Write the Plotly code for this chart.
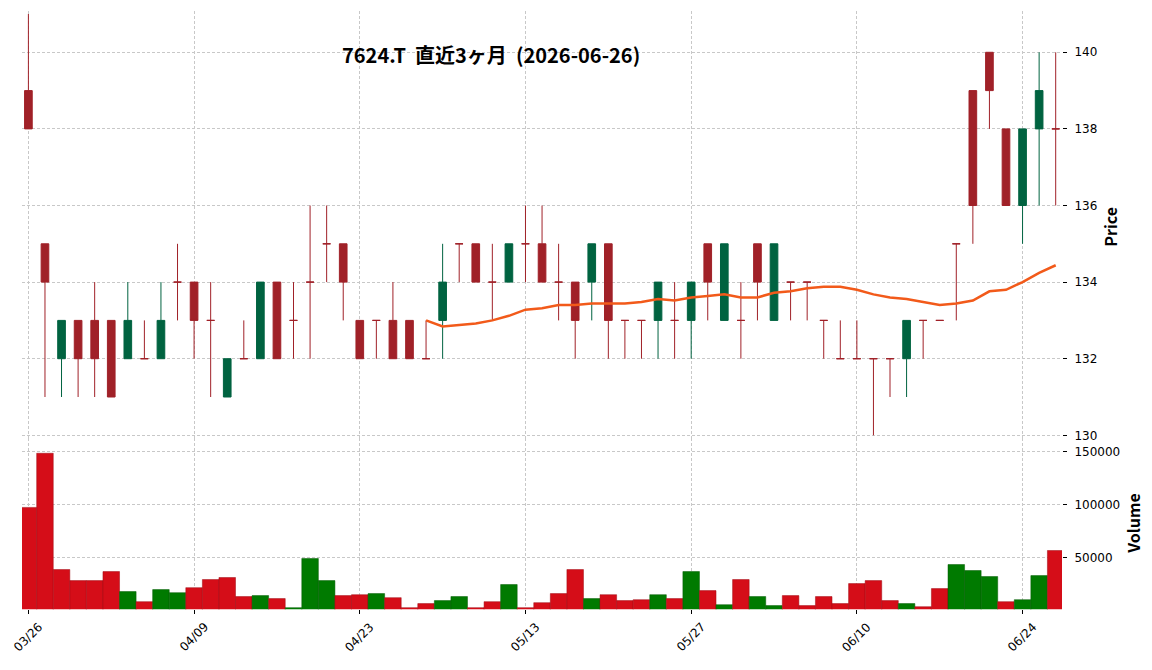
import plotly.graph_objects as go
import pandas as pd

# ---------------- data ----------------
dates = [
    "2026-03-26", "2026-03-27", "2026-03-30", "2026-03-31",
    "2026-04-01", "2026-04-02", "2026-04-03", "2026-04-06", "2026-04-07", "2026-04-08",
    "2026-04-09", "2026-04-10", "2026-04-13", "2026-04-14", "2026-04-15", "2026-04-16",
    "2026-04-17", "2026-04-20", "2026-04-21", "2026-04-22", "2026-04-23", "2026-04-24",
    "2026-04-27", "2026-04-28", "2026-04-30",
    "2026-05-01", "2026-05-07", "2026-05-08", "2026-05-11", "2026-05-12", "2026-05-13",
    "2026-05-14", "2026-05-15", "2026-05-18", "2026-05-19", "2026-05-20", "2026-05-21",
    "2026-05-22", "2026-05-25", "2026-05-26", "2026-05-27", "2026-05-28", "2026-05-29",
    "2026-06-01", "2026-06-02", "2026-06-03", "2026-06-04", "2026-06-05", "2026-06-08",
    "2026-06-09", "2026-06-10", "2026-06-11", "2026-06-12", "2026-06-15", "2026-06-16",
    "2026-06-17", "2026-06-18", "2026-06-19", "2026-06-22", "2026-06-23", "2026-06-24",
    "2026-06-25", "2026-06-26",
]
opens = [139, 135, 132, 133, 133, 133, 132, 132, 132, 134,
         134, 133, 131, 132, 132, 134, 133, 134, 135, 135,
         133, 133, 133, 133, 132, 133, 135, 135, 134, 134,
         135, 135, 134, 134, 134, 135, 133, 133, 133, 133,
         133, 135, 133, 133, 135, 133, 134, 134, 133, 132,
         132, 132, 132, 132, 133, 133, 135, 139, 140, 138,
         136, 138, 138]
highs = [141, 135, 133, 133, 134, 133, 134, 133, 134, 135,
         134, 134, 132, 133, 134, 134, 134, 136, 136, 135,
         133, 133, 134, 133, 133, 135, 135, 135, 135, 135,
         136, 136, 135, 134, 135, 135, 133, 133, 134, 134,
         134, 135, 135, 134, 135, 135, 134, 134, 133, 133,
         133, 132, 132, 133, 133, 133, 135, 139, 140, 138,
         138, 140, 140]
lows = [138, 131, 131, 131, 131, 131, 132, 132, 132, 133,
        132, 131, 131, 132, 132, 132, 132, 132, 134, 133,
        132, 132, 132, 132, 132, 132, 134, 134, 133, 134,
        134, 134, 133, 132, 133, 132, 132, 132, 132, 132,
        132, 133, 133, 132, 133, 133, 133, 133, 132, 132,
        132, 130, 131, 131, 132, 133, 133, 135, 138, 136,
        135, 136, 136]
closes = [138, 134, 133, 132, 132, 131, 133, 132, 133, 134,
          133, 133, 132, 132, 134, 132, 133, 134, 135, 134,
          132, 133, 132, 132, 132, 134, 135, 134, 134, 135,
          135, 134, 134, 133, 135, 133, 133, 133, 134, 133,
          134, 134, 135, 133, 134, 135, 134, 134, 133, 132,
          132, 132, 132, 133, 133, 133, 135, 136, 139, 136,
          138, 139, 138]
volumes = [97500, 148400, 39100, 28700, 28700, 37200, 18400, 8950, 20250, 17400,
           22100, 29700, 31600, 13700, 14600, 11800, 3300, 49500, 28700, 14600,
           15500, 16500, 12700, 3300, 7100, 9900, 13700, 3300, 8950, 25000,
           3300, 8000, 16500, 39100, 11800, 15500, 9900, 10800, 15500, 11800,
           37200, 19300, 6100, 29700, 13700, 5200, 14600, 5200, 13700, 7100,
           25900, 28700, 9900, 7100, 4200, 21200, 43800, 38200, 32500, 8950,
           10800, 33400, 57000]

tick_dates = ["2026-03-26", "2026-04-09", "2026-04-23", "2026-05-13",
              "2026-05-27", "2026-06-10", "2026-06-24"]
tick_labels = ["03/26", "04/09", "04/23", "05/13", "05/27", "06/10", "06/24"]
price_ticks = [130, 132, 134, 136, 138, 140]
volume_ticks = [50000, 100000, 150000]
ma_window = 25
title_text = "7624.T  直近3ヶ月  (2026-06-26)"

# ---------------- styles ----------------
UP = "#006340"
DOWN = "#A02128"
VUP = "#007A00"
VDOWN = "#D50D18"
MA_COLOR = "#F25A1A"
GRID = "#C8C8C8"
TICK_FONT = dict(family="DejaVu Sans", size=12, color="#000000")
LABEL_FONT = dict(family="Noto Sans CJK JP", size=16, color="#000000", weight="bold")

n = len(dates)
up_idx = [i for i in range(n) if closes[i] > opens[i]]
dn_idx = [i for i in range(n) if closes[i] <= opens[i]]

ma = pd.Series(closes, dtype=float).rolling(ma_window).mean()
ma_vals = [None if pd.isna(v) else float(v) for v in ma]

vol_colors = [VDOWN] + [VUP if closes[i] > closes[i - 1] else VDOWN for i in range(1, n)]
vol_edges = ["#9E0A12" if c == VDOWN else "#005A00" for c in vol_colors]

fig = go.Figure()


def candle(idx, color):
    return go.Candlestick(
        x=[dates[i] for i in idx],
        open=[opens[i] for i in idx],
        high=[highs[i] for i in idx],
        low=[lows[i] for i in idx],
        close=[closes[i] for i in idx],
        increasing=dict(line=dict(color=color, width=1), fillcolor=color),
        decreasing=dict(line=dict(color=color, width=1), fillcolor=color),
        whiskerwidth=0,
        xaxis="x", yaxis="y", showlegend=False,
    )


fig.add_trace(candle(up_idx, UP))
fig.add_trace(candle(dn_idx, DOWN))
fig.add_trace(go.Scatter(x=dates, y=ma_vals, mode="lines",
                         line=dict(color=MA_COLOR, width=2.5),
                         xaxis="x", yaxis="y", showlegend=False))
fig.add_trace(go.Bar(x=dates, y=volumes, width=1.0,
                     marker=dict(color=vol_colors, line=dict(color=vol_edges, width=0.5)),
                     xaxis="x2", yaxis="y2", showlegend=False))

x_dom = [22 / 1152, 1062 / 1152]
x_range = [-0.386, 62.38]

common_x = dict(type="category", categoryorder="array", categoryarray=dates,
                range=x_range, domain=x_dom, tickvals=tick_dates, showgrid=True,
                gridcolor=GRID, griddash="3px,2px", gridwidth=0.8,
                zeroline=False, showline=False, fixedrange=True)

fig.update_layout(
    width=1152, height=670,
    margin=dict(l=0, r=0, t=0, b=0),
    paper_bgcolor="white", plot_bgcolor="white",
    boxgap=0.34,
    showlegend=False,
    xaxis=dict(**common_x, anchor="y", showticklabels=False, ticks="",
               rangeslider=dict(visible=False)),
    xaxis2=dict(**common_x, anchor="y2", matches="x", showticklabels=False,
                ticks="outside", ticklen=4, tickcolor="#000000", tickwidth=1),
    yaxis=dict(domain=[(670 - 441) / 670, (670 - 11) / 670], range=[129.92, 141.08],
               side="right", anchor="x", tickvals=price_ticks,
               ticks="outside", ticklen=4, tickcolor="#000000", tickwidth=1,
               tickfont=TICK_FONT, ticklabelstandoff=5,
               showgrid=True, gridcolor=GRID, griddash="3px,2px", gridwidth=0.8,
               zeroline=False, showline=False, fixedrange=True),
    yaxis2=dict(domain=[(670 - 613) / 670, (670 - 441) / 670], range=[1700, 162400],
                side="right", anchor="x2", tickvals=volume_ticks, tickformat="d",
                ticks="outside", ticklen=4, tickcolor="#000000", tickwidth=1,
                tickfont=TICK_FONT, ticklabelstandoff=5,
                showgrid=True, gridcolor=GRID, griddash="3px,2px", gridwidth=0.8,
                zeroline=False, showline=False, fixedrange=True),
)

annotations = []
for d, lab in zip(tick_dates, tick_labels):
    annotations.append(dict(x=d, xref="x2", y=(670 - 641) / 670, yref="paper",
                            text=lab, textangle=-45, showarrow=False,
                            xanchor="center", yanchor="middle", font=TICK_FONT))
annotations.append(dict(x=491 / 1152, y=1 - 55 / 670, xref="paper", yref="paper",
                        text=title_text, showarrow=False, xanchor="center", yanchor="middle",
                        font=dict(family="Noto Sans CJK JP", size=20, color="#000000",
                                  weight="bold")))
annotations.append(dict(x=1110 / 1152, y=(670 - 228) / 670, xref="paper", yref="paper",
                        text="Price", textangle=-90, showarrow=False,
                        xanchor="center", yanchor="middle", font=LABEL_FONT))
annotations.append(dict(x=1133 / 1152, y=(670 - 527) / 670, xref="paper", yref="paper",
                        text="Volume", textangle=-90, showarrow=False,
                        xanchor="center", yanchor="middle", font=LABEL_FONT))
fig.update_layout(annotations=annotations)

fig.write_html("out.html")
